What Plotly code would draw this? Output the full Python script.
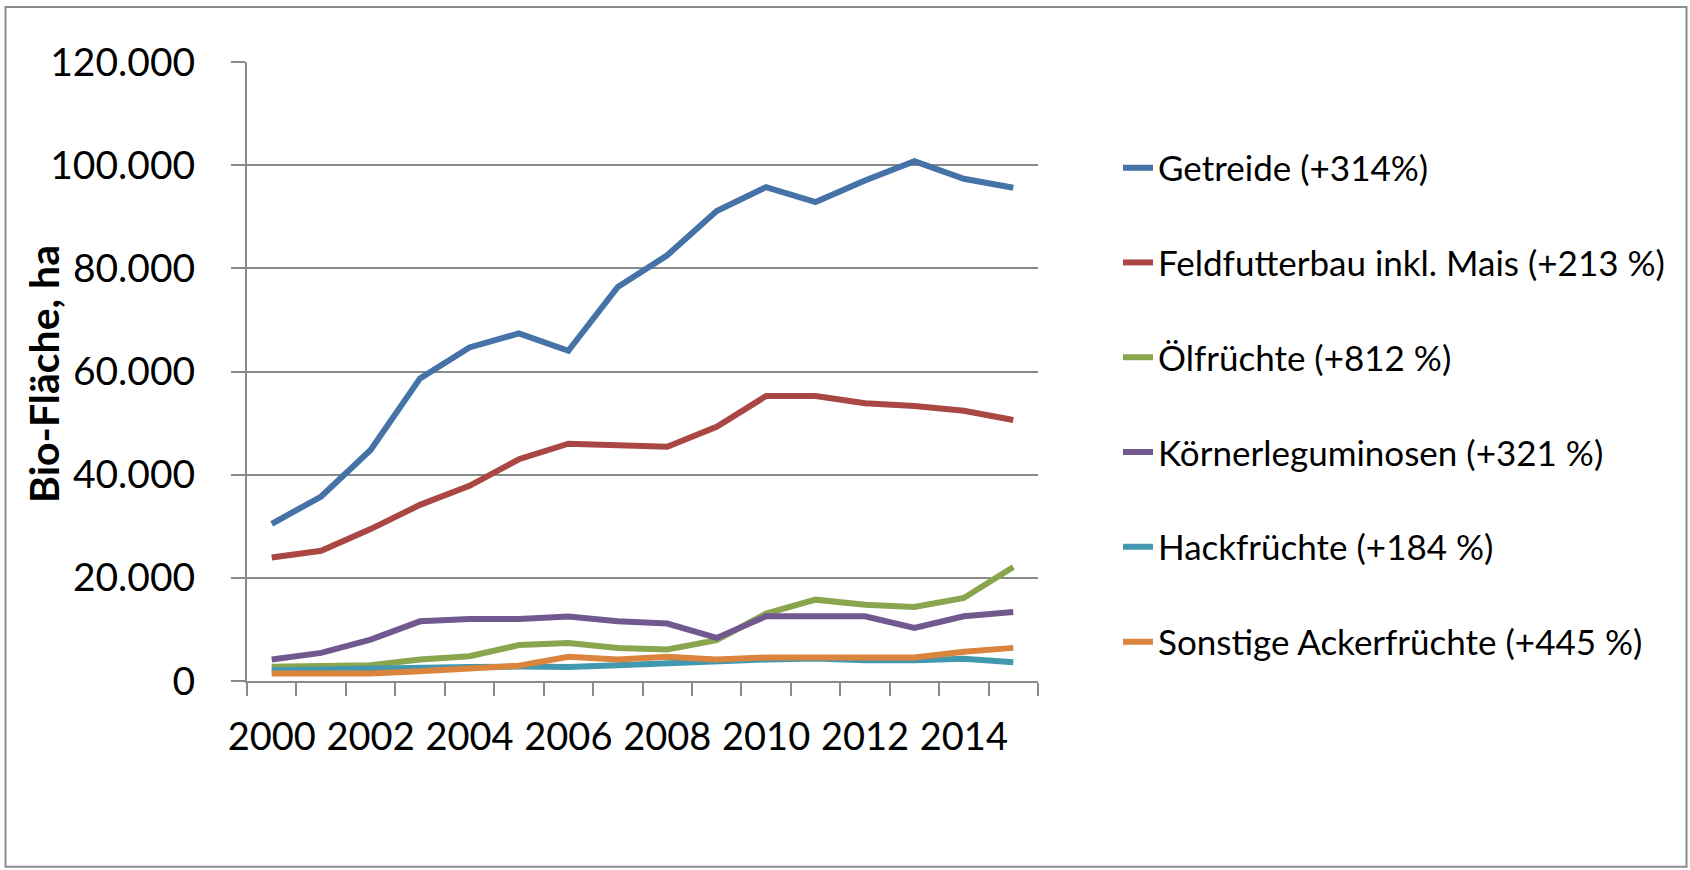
import plotly.graph_objects as go

years = list(range(2000, 2016))

getreide = [30480, 35760, 44800, 58670, 64670, 67380, 64010, 76400, 82530, 91100,
            95750, 92850, 97040, 100780, 97370, 95630]
feldfutter = [23960, 25250, 29450, 34150, 37830, 42990, 46000, 45760, 45430, 49300,
              55240, 55240, 53830, 53310, 52400, 50600]
oelfruechte = [2750, 2870, 3060, 4160, 4800, 6960, 7380, 6420, 6100, 7900,
               13060, 15770, 14800, 14360, 16100, 22100]
koernerleg = [4160, 5450, 8030, 11570, 12030, 12030, 12480, 11570, 11130, 8360,
              12540, 12540, 12540, 10290, 12540, 13390]
hackfruechte = [2100, 2300, 2550, 2700, 2700, 2800, 2700, 3060, 3520, 3970,
                4160, 4350, 4030, 4030, 4290, 3650]
sonstige = [1450, 1450, 1450, 1900, 2360, 2950, 4680, 4160, 4680, 4160,
            4550, 4680, 4550, 4550, 5650, 6420]

series_names = ["Getreide (+314%)", "Feldfutterbau inkl. Mais (+213 %)", "Ölfrüchte (+812 %)",
                "Körnerleguminosen (+321 %)", "Hackfrüchte (+184 %)", "Sonstige Ackerfrüchte (+445 %)"]
series_values = [getreide, feldfutter, oelfruechte, koernerleg, hackfruechte, sonstige]
colors = ["#4572A7", "#AA4643", "#89A54E", "#71588F", "#4198AF", "#DB843D"]

y_ticks = [0, 20000, 40000, 60000, 80000, 100000, 120000]
y_ticktext = ["0", "20.000", "40.000", "60.000", "80.000", "100.000", "120.000"]
x_labels = [2000, 2002, 2004, 2006, 2008, 2010, 2012, 2014]
y_title = "Bio-Fläche, ha"

FONT = "Lato, 'Open Sans', sans-serif"
GRID = "#8a8a8a"

fig = go.Figure()
for i, (name, vals, col) in enumerate(zip(series_names, series_values, colors)):
    fig.add_trace(go.Scatter(
        x=years, y=vals, name=name, mode="lines",
        line=dict(color=col, width=6),
        legendgroup=f"g{i}",
    ))

L, R, T, B = 247, 1038, 61.5, 681.5
W, H = 1690, 870

fig.update_layout(
    width=W, height=H,
    margin=dict(l=L, r=W - R, t=T, b=H - B, pad=0),
    paper_bgcolor="white", plot_bgcolor="white",
    font=dict(family=FONT, color="black"),
    showlegend=True,
    legend=dict(
        x=(1118 - L) / (R - L), xanchor="left",
        y=(B - 138) / (B - T), yanchor="top",
        font=dict(size=35, family=FONT, color="black"),
        tracegroupgap=46.3,
        bgcolor="rgba(0,0,0,0)",
    ),
    xaxis=dict(
        range=[1999.5, 2015.5],
        tickmode="array", tickvals=x_labels, ticktext=[str(v) for v in x_labels],
        ticks="", showgrid=False, zeroline=False,
        showline=True, linecolor=GRID, linewidth=2,
        tickfont=dict(size=38, family=FONT, color="black"),
        ticklabelstandoff=21,
        minor=dict(tickmode="array", tickvals=[y - 0.5 for y in years] + [2015.5],
                   ticks="outside", ticklen=13, tickcolor=GRID, tickwidth=2, showgrid=False),
    ),
    yaxis=dict(
        range=[0, 120000],
        tickmode="array", tickvals=y_ticks, ticktext=y_ticktext,
        ticks="outside", ticklen=14, tickcolor=GRID, tickwidth=2,
        showgrid=True, gridcolor=GRID, gridwidth=2, zeroline=False,
        showline=True, linecolor=GRID, linewidth=2,
        tickfont=dict(size=39, family=FONT, color="black"),
        ticklabelstandoff=28,
    ),
    annotations=[dict(
        text=f"<b>{y_title}</b>", textangle=-90,
        xref="paper", yref="paper", x=(44 - L) / (R - L), y=(B - 374) / (B - T),
        xanchor="center", yanchor="middle", showarrow=False,
        font=dict(size=41, family=FONT, color="black"),
    )],
    shapes=[dict(
        type="rect", xref="paper", yref="paper",
        x0=(5.5 - L) / (R - L), x1=(1686.5 - L) / (R - L),
        y0=(B - 867.5) / (B - T), y1=(B - 6.5) / (B - T),
        line=dict(color="#8c8c8c", width=2), fillcolor="rgba(0,0,0,0)",
        layer="below",
    )],
)

fig.write_html("out.html", config={"displayModeBar": False},
               post_script="document.body.style.margin='0';document.body.style.overflow='hidden';")
